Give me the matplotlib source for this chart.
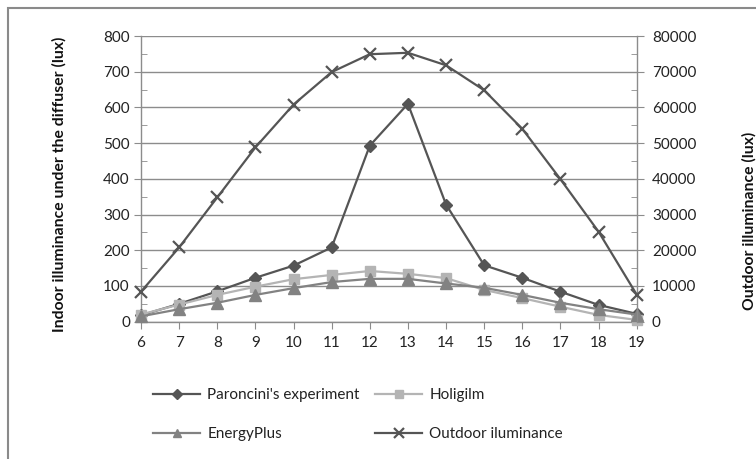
import matplotlib
matplotlib.use("Agg")
import matplotlib.pyplot as plt
from matplotlib.ticker import MultipleLocator
from matplotlib.patches import Rectangle

hours = [6, 7, 8, 9, 10, 11, 12, 13, 14, 15, 16, 17, 18, 19]
paroncini = [18, 50, 85, 123, 157, 208, 493, 610, 328, 158, 123, 84, 47, 22]
holigilm = [20, 48, 75, 98, 119, 131, 142, 134, 122, 89, 66, 42, 19, 5]
energyplus = [15, 35, 53, 75, 94, 111, 120, 120, 107, 95, 75, 53, 35, 20]
outdoor = [8400, 20800, 34800, 48800, 60800, 69900, 74900, 75300, 71800, 64800, 54000, 39900, 25200, 7600]

left_label = "Indoor illuminance under the diffuser (lux)"
right_label = "Outdoor illuminance (lux)"
names = ["Paroncini's experiment", "Holigilm", "EnergyPlus", "Outdoor iluminance"]

plt.rcParams['font.family'] = ['Lato', 'DejaVu Sans']

W, H = 756, 459
fig = plt.figure(figsize=(W / 100, H / 100), dpi=100)

# outer chart border (left & top visible)
fig.patches.append(Rectangle((8 / W, -0.1), 1.2, 1 - 8 / H + 0.1, transform=fig.transFigure,
                             fill=False, edgecolor='#8a8a8a', linewidth=1.5))

x0, x1 = 141, 636.7
y0, y1 = 36, 321.7
ax = fig.add_axes([x0 / W, 1 - y1 / H, (x1 - x0) / W, (y1 - y0) / H])
ax2 = ax.twinx()

dark = '#555555'
light = '#b4b4b4'
mid = '#828282'
axc = '#8c8c8c'
txt = '#222222'

l1, = ax.plot(hours, paroncini, color=dark, lw=1.6, marker='D', ms=6.5, clip_on=False, zorder=3)
l2, = ax.plot(hours, holigilm, color=light, lw=1.6, marker='s', ms=7, clip_on=False, zorder=3)
l3, = ax.plot(hours, energyplus, color=mid, lw=1.6, marker='^', ms=8, clip_on=False, zorder=3)
l4, = ax2.plot(hours, outdoor, color=dark, lw=1.6, marker='x', ms=9, mew=1.6, clip_on=False, zorder=3)

ax.set_xlim(6, 19)
ax.set_ylim(0, 800)
ax2.set_ylim(0, 80000)
ax.set_xticks(hours)
ax.yaxis.set_major_locator(MultipleLocator(100))
ax.yaxis.set_minor_locator(MultipleLocator(50))
ax2.yaxis.set_major_locator(MultipleLocator(10000))
ax2.yaxis.set_minor_locator(MultipleLocator(5000))

ax.grid(axis='y', which='major', color=axc, lw=1)
ax.set_axisbelow(True)

for a in (ax, ax2):
    a.spines['top'].set_visible(False)
    for s in ['left', 'right', 'bottom']:
        a.spines[s].set_color(axc)
        a.spines[s].set_linewidth(1)
ax.spines['right'].set_visible(False)
ax2.spines['left'].set_visible(False)
ax2.spines['bottom'].set_visible(False)

ax.tick_params(axis='x', direction='out', length=5, color=axc, labelsize=11, pad=5, labelcolor=txt)
ax.tick_params(axis='y', which='major', direction='out', length=5, color=axc, labelsize=11, pad=3, labelcolor=txt)
ax.tick_params(axis='y', which='minor', direction='in', length=4, color=axc)
ax2.tick_params(axis='y', which='major', direction='out', length=5, color=axc, labelsize=11, pad=6, labelcolor=txt)
ax2.tick_params(axis='y', which='minor', direction='in', length=4, color=axc)

fig.text(59 / W, 1 - 184 / H, left_label, rotation=90, ha='center', va='center',
         fontsize=11.3, fontweight='bold', color='#111111')
fig.text(749 / W, 1 - 221 / H, right_label, rotation=90, ha='center', va='center',
         fontsize=11.3, fontweight='bold', color='#111111')

common = dict(loc='upper left', frameon=False, fontsize=11, handlelength=3.1,
              handletextpad=0.45, labelspacing=1.66, borderpad=0, borderaxespad=0,
              markerscale=0.8)
leg1 = fig.legend([l1, l3], [names[0], names[2]], bbox_to_anchor=(153 / W, 1 - 388 / H), **common)
leg2 = fig.legend([l2, l4], [names[1], names[3]], bbox_to_anchor=(375 / W, 1 - 388 / H), **common)
for lg in (leg1, leg2):
    for t in lg.get_texts():
        t.set_color(txt)

fig.savefig("out.png", dpi=100)
